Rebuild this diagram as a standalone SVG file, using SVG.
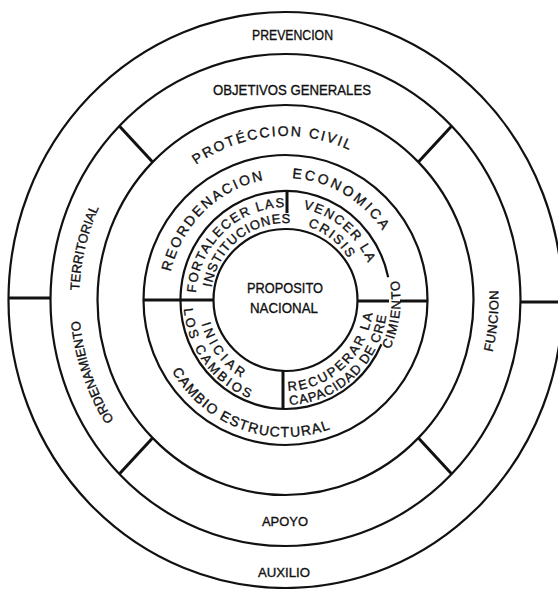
<svg xmlns="http://www.w3.org/2000/svg" width="558" height="589" viewBox="0 0 558 589">
<defs>
<style>
.ring{fill:none;stroke:#111;stroke-width:2.2}
.div{fill:none;stroke:#111;stroke-width:3}
text{font-family:"Liberation Sans",Arial,sans-serif;fill:#111;stroke:#111;stroke-width:0.35}
.c{text-anchor:middle}
.big{font-size:14px}
.hz{font-size:14.5px}
.mid{font-size:13px}
</style>
<path id="pProt" d="M164.5,194.6 A158,164 0 0 1 387.1,174.4"/>
<path id="pReor" d="M167.7,306.4 A118,122 0 0 1 299.9,178.9"/>
<path id="pEcon" d="M244.2,185.7 A118,122 0 0 1 401.5,277.8"/>
<path id="pCamb" d="M154.5,323.8 A133,137 0 0 0 374.5,401.8"/>
<path id="pFort" d="M195.6,304.1 A90,93 0 0 1 297.2,207.8"/>
<path id="pInst" d="M210.5,297.3 A75,77 0 0 1 301.1,224.7"/>
<path id="pVenc" d="M268.3,208.7 A90,93 0 0 1 375.5,298.4"/>
<path id="pCris" d="M269.3,224.8 A75,77 0 0 1 360.4,296.6"/>
<path id="pInic" d="M200.1,282.8 A87,90 0 0 0 284.0,390.0"/>
<path id="pLos" d="M185.7,278.2 A102,105 0 0 0 281.9,404.9"/>
<path id="pRecu" d="M273.3,390.1 A88,91 0 0 0 373.4,296.8"/>
<path id="pCapa" d="M271.3,404.0 A102,105 0 0 0 387.4,296.3"/>
<path id="pCimi" d="M347.3,399.5 A115,118 0 0 0 370.3,220.3"/>
<path id="pTerr" d="M108.1,410.3 A206.5,215.5 0 0 1 179.8,114.9"/>
<path id="pOrde" d="M198.2,495.3 A206.5,215.5 0 0 1 98.3,208.9"/>
<path id="pFunc" d="M420.7,471.5 A213,222 0 0 0 450.1,159.1"/>
</defs>
<rect width="558" height="589" fill="#fff"/>

<g id="prevencion-auxilio">
  <ellipse class="ring" cx="285.5" cy="300" rx="277" ry="288"/>
  <text class="hz c" x="292.5" y="40" textLength="81" lengthAdjust="spacingAndGlyphs">PREVENCION</text>
  <text class="mid c" x="284" y="577" textLength="52" lengthAdjust="spacingAndGlyphs">AUXILIO</text>
</g>

<g id="objetivos-generales">
  <ellipse class="ring" cx="285.5" cy="300" rx="235" ry="246"/>
  <text class="hz c" x="292" y="95" textLength="158" lengthAdjust="spacingAndGlyphs">OBJETIVOS GENERALES</text>
</g>
<g id="ordenamiento-territorial">
  <text class="mid c"><textPath href="#pTerr" startOffset="50%">TERRITORIAL</textPath></text>
  <text class="mid c"><textPath href="#pOrde" startOffset="50%">ORDENAMIENTO</textPath></text>
</g>
<g id="funcion">
  <text class="mid c" letter-spacing="0.5"><textPath href="#pFunc" startOffset="50%">FUNCION</textPath></text>
</g>
<g id="apoyo">
  <text class="mid c" x="285" y="526" textLength="46" lengthAdjust="spacingAndGlyphs">APOYO</text>
</g>

<g id="proteccion-civil">
  <ellipse class="ring" cx="285.5" cy="300" rx="188" ry="195"/>
  <text class="big c" letter-spacing="1.9"><textPath href="#pProt" startOffset="50%">PROTÉCCION CIVIL</textPath></text>
</g>

<g id="reordenacion-economica">
  <ellipse class="ring" cx="285.5" cy="300" rx="142" ry="145"/>
  <text class="big c" letter-spacing="2.1"><textPath href="#pReor" startOffset="50%">REORDENACION</textPath></text>
  <text class="big c" letter-spacing="2.7"><textPath href="#pEcon" startOffset="50%">ECONOMICA</textPath></text>
</g>
<g id="cambio-estructural">
  <text class="big c" letter-spacing="1.2"><textPath href="#pCamb" startOffset="50%">CAMBIO ESTRUCTURAL</textPath></text>
</g>

<g id="anillo-interior">
  <path class="ring" d="M381.4,344.3 A105,109 0 1 1 388.2,277.3"/>
</g>
<g id="fortalecer-las-instituciones">
  <text class="mid c" letter-spacing="1.6"><textPath href="#pFort" startOffset="50%">FORTALECER LAS</textPath></text>
  <text class="mid c" letter-spacing="0.9"><textPath href="#pInst" startOffset="50%">INSTITUCIONES</textPath></text>
</g>
<g id="vencer-la-crisis">
  <text class="mid c" letter-spacing="1.7"><textPath href="#pVenc" startOffset="50%">VENCER LA</textPath></text>
  <text class="mid c" letter-spacing="1.8"><textPath href="#pCris" startOffset="50%">CRISIS</textPath></text>
</g>
<g id="iniciar-los-cambios">
  <text class="mid c" letter-spacing="3.5"><textPath href="#pInic" startOffset="50%">INICIAR</textPath></text>
  <text class="mid c" letter-spacing="2.7"><textPath href="#pLos" startOffset="50%">LOS CAMBIOS</textPath></text>
</g>
<g id="recuperar-la-capacidad-de-crecimiento">
  <text class="mid c" letter-spacing="2.1"><textPath href="#pRecu" startOffset="50%">RECUPERAR LA</textPath></text>
  <text class="mid c" letter-spacing="1"><textPath href="#pCapa" startOffset="50%">CAPACIDAD DE CRE</textPath></text>
  <text class="mid c" letter-spacing="1"><textPath href="#pCimi" startOffset="50%">CIMIENTO</textPath></text>
</g>

<g id="proposito-nacional">
  <ellipse class="ring" cx="285.5" cy="300" rx="72" ry="71"/>
  <text class="hz c" x="285" y="293" textLength="76" lengthAdjust="spacingAndGlyphs">PROPOSITO</text>
  <text class="hz c" x="284" y="313" textLength="68" lengthAdjust="spacingAndGlyphs">NACIONAL</text>
</g>

<g id="connectors">
  <line class="div" x1="8.5" y1="298" x2="50.5" y2="298"/>
  <line class="div" x1="520.5" y1="302" x2="558" y2="302"/>
  <line class="div" x1="119.3" y1="126.1" x2="152.6" y2="162.1"/>
  <line class="div" x1="451.7" y1="126.1" x2="418.4" y2="162.1"/>
  <line class="div" x1="119.3" y1="473.9" x2="152.6" y2="437.9"/>
  <line class="div" x1="451.7" y1="473.9" x2="418.4" y2="437.9"/>
  <line class="div" x1="143.5" y1="300" x2="213.5" y2="300"/>
  <line class="div" x1="357.5" y1="301" x2="389" y2="301"/>
  <line class="div" x1="400" y1="301" x2="427.5" y2="301"/>
  <line class="div" x1="287" y1="191" x2="287" y2="213"/>
  <line class="div" x1="283" y1="371" x2="283" y2="409"/>
</g>
</svg>
